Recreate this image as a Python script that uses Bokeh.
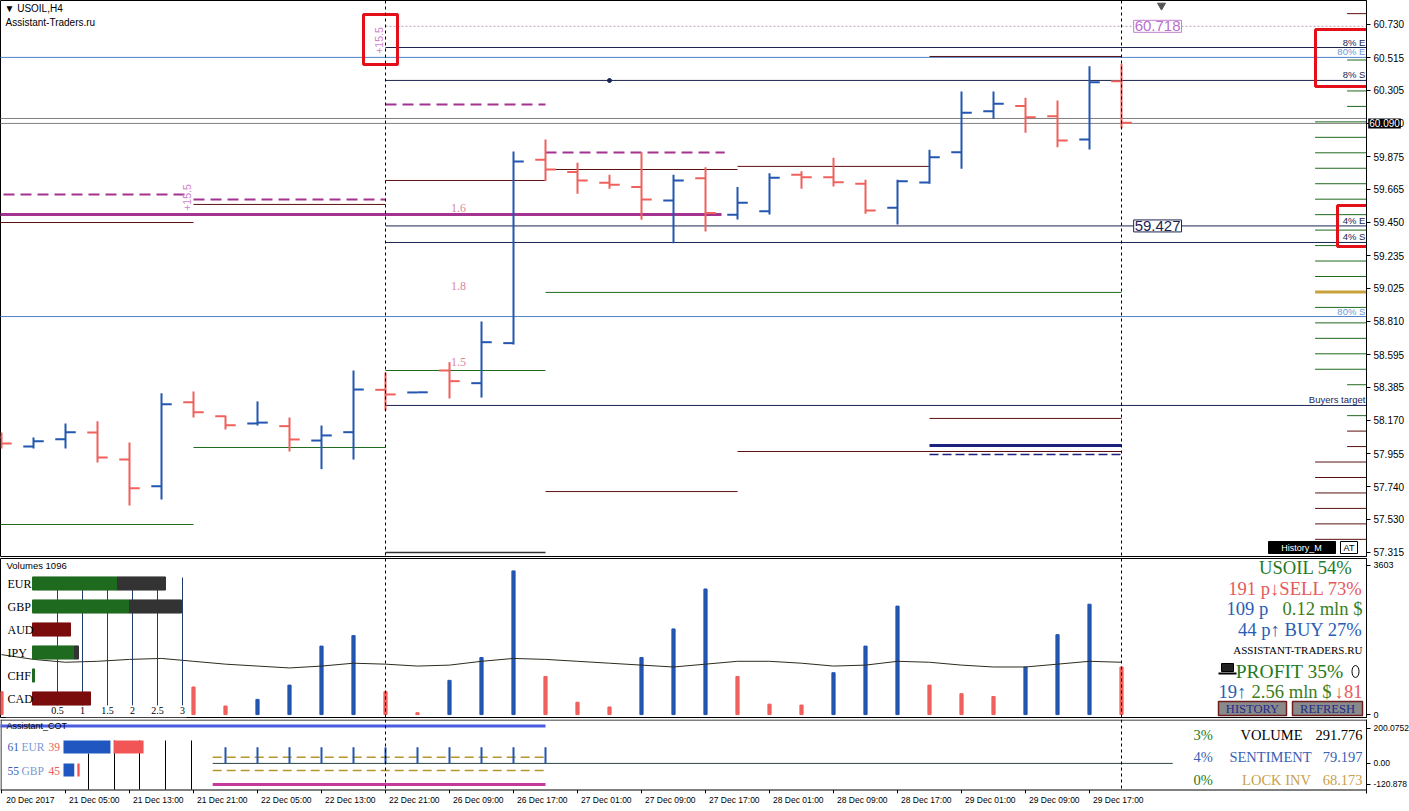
import math
from bokeh.plotting import figure
from bokeh.models import (Range1d, LinearAxis, FixedTicker, NumeralTickFormatter,
                          Span, Label, ColumnDataSource)
from bokeh.layouts import column
from bokeh.embed import file_html
from bokeh.resources import INLINE
from bokeh.core.properties import value

# ---------------- data ----------------
time_labels = ["20 Dec 2017", "21 Dec 05:00", "21 Dec 13:00", "21 Dec 21:00", "22 Dec 05:00",
               "22 Dec 13:00", "22 Dec 21:00", "26 Dec 09:00", "26 Dec 17:00", "27 Dec 01:00",
               "27 Dec 09:00", "27 Dec 17:00", "28 Dec 01:00", "28 Dec 09:00", "28 Dec 17:00",
               "29 Dec 01:00", "29 Dec 09:00", "29 Dec 17:00"]
label_bars = [0, 2, 4, 6, 8, 10, 12, 14, 16, 18, 20, 22, 24, 26, 28, 30, 32, 34]

opens = [58.060, 58.001, 58.048, 58.091, 57.916, 57.744, 58.287, 58.196, 58.150, 58.132,
         58.039, 58.093, 58.367, 58.350, 58.492, 58.410, 58.669, 59.855, 59.775, 59.706,
         59.678, 59.592, 59.736, 59.499, 59.522, 59.758, 59.742, 59.700, 59.544, 59.708,
         59.904, 60.169, 60.202, 60.137, 59.986, 60.363]
highs = [58.091, 58.059, 58.149, 58.164, 58.026, 58.345, 58.356, 58.200, 58.292, 58.188,
         58.136, 58.492, 58.479, 58.352, 58.546, 58.809, 59.909, 59.986, 59.835, 59.758,
         59.904, 59.758, 59.807, 59.678, 59.768, 59.781, 59.868, 59.726, 59.726, 59.920,
         60.297, 60.297, 60.256, 60.238, 60.460, 60.476]
lows = [57.988, 57.988, 57.988, 57.897, 57.619, 57.658, 58.188, 58.110, 58.136, 57.968,
        57.854, 57.916, 58.233, 58.348, 58.311, 58.317, 58.660, 59.718, 59.635, 59.667,
        59.467, 59.315, 59.391, 59.469, 59.501, 59.667, 59.682, 59.506, 59.436, 59.700,
        59.797, 60.120, 60.030, 59.936, 59.921, 60.059]
closes = [58.020, 58.035, 58.093, 57.929, 57.731, 58.274, 58.222, 58.138, 58.155, 58.046,
          58.072, 58.369, 58.337, 58.351, 58.423, 58.675, 59.844, 59.792, 59.721, 59.693,
          59.598, 59.721, 59.510, 59.577, 59.738, 59.742, 59.710, 59.527, 59.716, 59.872,
          60.159, 60.217, 60.130, 59.980, 60.357, 60.094]

volumes = [551, 820, 760, 940, 1110, 1280, 666, 207, 367, 711, 1652, 1905, 551, 46, 826, 1377,
           3465, 918, 298, 184, 1377, 2066, 3029, 918, 252, 230, 1010, 1652, 2616, 711, 505,
           436, 1148, 1928, 2662, 1148]
volume_ma = [1446, 1331, 1262, 1285, 1331, 1354, 1285, 1216, 1170, 1125, 1170, 1239, 1216, 1170,
             1193, 1285, 1354, 1331, 1285, 1239, 1193, 1148, 1216, 1285, 1285, 1239, 1170, 1193,
             1285, 1262, 1193, 1148, 1148, 1216, 1285, 1262]

price_ticks = [60.730, 60.515, 60.305, 60.090, 59.875, 59.665, 59.450, 59.235, 59.025, 58.810,
               58.595, 58.385, 58.170, 57.955, 57.740, 57.530, 57.315]
volume_ticks = [0, 3603]
cot_ticks = [-120.878, 0, 200.0752]

# horizontal levels
day_starts = [-1, 6, 12, 17, 23, 29]
day_ends = [6, 12, 17, 23, 29, 35]
resist_steps = [59.449, 59.566, 59.721, 59.792, 59.812, 60.523]
pivot_dashed = [59.630, 59.598, 60.213, 59.902]
support_x0 = [-1, 6, 12, 17]
support_x1 = [6, 12, 17, 35]
support_green = [57.496, 57.994, 58.492, 58.997]
maroon_x0 = [17, 23, 29]
maroon_x1 = [23, 35, 35]
maroon_levels = [57.709, 57.968, 58.182]
zone_solid = 58.007
zone_dashed = 57.949
pivot_main = 59.501
range_low = 57.315
band_levels = [60.517, 58.841]
band_names = ["80% E", "80% S"]
quote_levels = [60.122, 60.090]
target_levels = [60.581, 60.368, 59.427, 59.320, 58.266]
target_names = ["8% E", "8% S", "4% E", "4% S", "Buyers target"]
high_mark = 60.718
low_mark = 59.427
ratio_labels = ["1.6", "1.8", "1.5"]

ladder_green_long = [60.1, 60.0, 59.9, 59.8, 59.7, 59.6, 59.5, 59.4, 59.3, 59.2, 59.1,
                     58.9, 58.8, 58.7, 58.6, 58.5]
ladder_green_short = [60.5, 60.3, 60.2, 58.4, 58.2]
ladder_gold = [59.0]
ladder_maroon_short = [60.8, 58.1, 58.0]
ladder_maroon_long = [57.9, 57.8, 57.7, 57.6, 57.5, 57.4]

currencies = ["EUR", "GBP", "AUD", "IPY", "CHF", "CAD"]
cur_main = [1.68, 1.92, 0.76, 0.82, 0.04, 1.16]
cur_total = [2.66, 2.98, 0.76, 0.92, 0.04, 1.16]
cur_positive = [True, True, False, True, True, False]
cur_scale = [0.5, 1, 1.5, 2, 2.5, 3]

cot_bars_x = [7, 8, 9, 10, 11, 12, 13, 14, 15, 16, 17]
cot_hist = [92, 92, 92, 92, 92, 92, 92, 92, 92, 92, 92]
cot_top = 215
cot_gold = [36, -40]
cot_magenta = -121
cot_pairs = ["EUR", "GBP"]
cot_long = [61, 55]
cot_short = [39, 45]
cot_long_bar = [61, 14]
cot_short_bar = [39, 3]

# ---------------- style ----------------
W = 1366
UP = "#2356b0"
DN = "#f0605c"
NAVY = "#1c2452"
MAROON = "#5c1010"
GREEN = "#1f6a1f"
MAGENTA = "#a3338f"
STEEL = "#5082c8"
SANS = "Liberation Sans"
SERIF = "Liberation Serif"

XR = Range1d(-0.03125, 42.656)


def make_fig(h, yr, top, bottom, outline="black"):
    p = figure(frame_width=W, frame_height=h, x_range=XR, y_range=yr,
               output_backend="svg", toolbar_location=None,
               x_axis_location=None, y_axis_location="right",
               min_border_left=0, min_border_right=43, min_border_top=top,
               min_border_bottom=bottom, background_fill_color="white",
               border_fill_color="white", outline_line_color=outline,
               outline_line_width=1)
    p.grid.visible = False
    p.extra_x_ranges = {"px": Range1d(0, W)}
    p.extra_y_ranges = {"px": Range1d(h, 0)}
    ax = p.yaxis[0]
    ax.axis_line_color = "black"
    ax.major_tick_line_color = "black"
    ax.major_tick_out = 4
    ax.major_tick_in = 0
    ax.minor_tick_line_color = None
    ax.major_label_text_font = SANS
    ax.major_label_text_color = "black"
    ax.major_label_standoff = 3
    return p


def ptext(p, x, y, txt, color, size, align="left", font=SANS, baseline="middle",
          angle=0.0, xr="px", yr="px"):
    p.text(x=[x], y=[y], text=[txt], x_range_name=xr, y_range_name=yr,
           text_color=color, text_font=value(font), text_font_size=f"{size}px",
           text_align=align, text_baseline=baseline, angle=angle)


def vline(p, x):
    p.add_layout(Span(location=x, dimension="height", line_color="black",
                      line_dash="3 3", line_width=1))


# ================= main price panel =================
p1 = make_fig(556, Range1d(57.289, 60.885), 0, 2)
p1.yaxis.ticker = FixedTicker(ticks=price_ticks)
p1.yaxis.formatter = NumeralTickFormatter(format="0.000")
p1.yaxis.major_label_text_font_size = "10px"

RIGHT = 43

p1.segment(x0=-1, x1=RIGHT, y0=band_levels, y1=band_levels, line_color=STEEL, line_width=1)
p1.segment(x0=-1, x1=RIGHT, y0=quote_levels, y1=quote_levels, line_color="#808080", line_width=1)
p1.segment(x0=12, x1=RIGHT, y0=target_levels, y1=target_levels, line_color=NAVY, line_width=1)
p1.segment(x0=[12], x1=[RIGHT], y0=[high_mark], y1=[high_mark], line_color="#b9a0b9",
           line_width=1, line_dash="2 2")
p1.segment(x0=day_starts, x1=day_ends, y0=resist_steps, y1=resist_steps,
           line_color=MAROON, line_width=1)
p1.segment(x0=day_starts[:4], x1=[5.9, 12, 17, 22.6], y0=pivot_dashed, y1=pivot_dashed,
           line_color=MAGENTA, line_width=2, line_dash="11 6")
p1.segment(x0=[-1], x1=[22.5], y0=[pivot_main], y1=[pivot_main], line_color=MAGENTA, line_width=3)
p1.segment(x0=support_x0, x1=support_x1, y0=support_green, y1=support_green,
           line_color=GREEN, line_width=1)
p1.segment(x0=maroon_x0, x1=maroon_x1, y0=maroon_levels, y1=maroon_levels,
           line_color=MAROON, line_width=1)
p1.segment(x0=[29], x1=[35], y0=[zone_solid], y1=[zone_solid], line_color="#1a237e", line_width=3)
p1.segment(x0=[29], x1=[35], y0=[zone_dashed], y1=[zone_dashed], line_color="#1a237e",
           line_width=1.5, line_dash="9 4")
p1.segment(x0=[12], x1=[17], y0=[range_low], y1=[range_low], line_color="#333333", line_width=1.5)

p1.segment(x0=41.05, x1=RIGHT, y0=ladder_green_long, y1=ladder_green_long, line_color=GREEN, line_width=1)
p1.segment(x0=42.05, x1=RIGHT, y0=ladder_green_short, y1=ladder_green_short, line_color=GREEN, line_width=1)
p1.segment(x0=41.05, x1=RIGHT, y0=ladder_gold, y1=ladder_gold, line_color="#c9a23c", line_width=3)
p1.segment(x0=42.05, x1=RIGHT, y0=ladder_maroon_short, y1=ladder_maroon_short, line_color=MAROON, line_width=1)
p1.segment(x0=41.05, x1=RIGHT, y0=ladder_maroon_long, y1=ladder_maroon_long, line_color=MAROON, line_width=1)

N = len(opens)
xs = list(range(N))
bar_col = [UP if c >= o else DN for o, c in zip(opens, closes)]
src = ColumnDataSource(dict(x=xs, xl=[x - 0.32 for x in xs], xr=[x + 0.32 for x in xs],
                            o=opens, h=highs, l=lows, c=closes, col=bar_col))
p1.segment(x0="x", y0="l", x1="x", y1="h", line_color="col", line_width=2, source=src)
p1.segment(x0="xl", y0="o", x1="x", y1="o", line_color="col", line_width=2, source=src)
p1.segment(x0="x", y0="c", x1="xr", y1="c", line_color="col", line_width=2, source=src)

vline(p1, 12)
vline(p1, 35)

lab_x = 42.62
p1.text(x=[lab_x] * len(target_names), y=target_levels, text=target_names, text_color=NAVY,
        text_font=value(SANS), text_font_size="9.5px", text_align="right", text_baseline="bottom")
p1.text(x=[lab_x] * 2, y=band_levels, text=band_names, text_color="#6c98d8",
        text_font=value(SANS), text_font_size="9.5px", text_align="right", text_baseline="bottom")

p1.add_layout(Label(x=35.38, y=high_mark, text=f"{high_mark:.3f}", text_color="#b86fd0",
                    text_font=SANS, text_font_size="15px", text_baseline="middle",
                    background_fill_color="white", border_line_color="#c080d0", padding=1))
p1.add_layout(Label(x=35.38, y=low_mark, text=f"{low_mark:.3f}", text_color=NAVY,
                    text_font=SANS, text_font_size="15px", text_baseline="middle",
                    background_fill_color="white", border_line_color=NAVY, padding=1))
# current price box, placed in the right side panel so that it is not clipped by the frame
p1.add_layout(Label(x=42.71, y=quote_levels[1], text=f"{quote_levels[1]:.3f}", text_color="white",
                    text_font=SANS, text_font_size="10px", text_baseline="middle",
                    background_fill_color="black", padding=1), "right")

ptext(p1, 4, 8, "\u25BC USOIL,H4", "black", 10)
ptext(p1, 5, 22, "Assistant-Traders.ru", "black", 10)
ptext(p1, 186, 197, "+15.5", "#cf7fcf", 10.5, align="center", angle=math.pi / 2)
ptext(p1, 378, 40, "+15.5", "#cf7fcf", 10.5, align="center", angle=math.pi / 2)
for t, yy in zip(ratio_labels, [207, 285, 361]):
    ptext(p1, 458, yy, t, "#d98a9e", 12, align="center", font=SERIF)

p1.quad(left=[1268], right=[1335], top=[541], bottom=[553], x_range_name="px", y_range_name="px",
        fill_color="black", line_color="black")
ptext(p1, 1301, 547, "History_M", "white", 9, align="center")
p1.quad(left=[1340], right=[1357], top=[541], bottom=[553], x_range_name="px", y_range_name="px",
        fill_color="white", line_color="black")
ptext(p1, 1348.5, 547, "AT", "black", 9, align="center")

p1.scatter(x=[1161], y=[5], marker="inverted_triangle", size=8, color="#555555",
           x_range_name="px", y_range_name="px")
p1.scatter(x=[609], y=[80], marker="circle", size=4, color=NAVY,
           x_range_name="px", y_range_name="px")

p1.quad(left=[363, 1315, 1337], right=[397, 1376, 1368], top=[14, 29, 205],
        bottom=[64, 86, 246], x_range_name="px", y_range_name="px",
        fill_color=None, line_color="#e3101a", line_width=3)

# ================= volume panel =================
p2 = make_fig(159, Range1d(-70, 3764), 0, 2)
p2.yaxis.ticker = FixedTicker(ticks=volume_ticks)
p2.yaxis.major_label_text_font_size = "9px"
p2.extra_x_ranges["cur"] = Range1d(-0.64, 26.68)
p2.extra_y_ranges["rows"] = Range1d(-0.826, 6.087)

vol_col = [DN] + [UP if volumes[i] > volumes[i - 1] else DN for i in range(1, N)]
p2.vbar(x=xs, top=volumes, bottom=0, width=0.1, color=vol_col)
vline(p2, 12)
vline(p2, 35)

p2.quad(left=[5], right=[186], top=[12], bottom=[159], x_range_name="px", y_range_name="px",
        fill_color="white", line_color=None)
p2.line(x=xs, y=volume_ma, line_color="#2b2b1e", line_width=1)

rows_v = [5, 4, 3, 2, 1, 0]
p2.segment(x0=cur_scale, x1=cur_scale, y0=5.26, y1=-0.30, x_range_name="cur",
           y_range_name="rows", line_color="#1f3c6c", line_width=1)
p2.hbar(y=rows_v, left=cur_main, right=cur_total, height=0.57, x_range_name="cur",
        y_range_name="rows", color="#333333")
p2.hbar(y=rows_v, left=0, right=cur_main, height=0.57, x_range_name="cur", y_range_name="rows",
        color=["#1e6a1e" if pos else "#7a0c0c" for pos in cur_positive])
p2.text(x=[-0.5] * 6, y=rows_v, text=currencies, x_range_name="cur", y_range_name="rows",
        text_font=value(SERIF), text_font_size="12px", text_color="black",
        text_baseline="middle", text_align="left")
p2.text(x=cur_scale, y=[-0.52] * 6, text=[f"{v:g}" for v in cur_scale], x_range_name="cur",
        y_range_name="rows", text_font=value(SERIF), text_font_size="10px",
        text_color="black", text_baseline="middle", text_align="center")

ptext(p2, 6, 7, "Volumes 1096", "black", 9.5)

G1 = "#237a23"
G2 = "#3b7d1c"
R1 = "#e8585a"
B1 = "#2a5db5"
BIG = 18.6
ptext(p2, 1352, 9, "USOIL 54%", G1, BIG, align="right", font=SERIF)
ptext(p2, 1362, 30, "191 p\u2193SELL 73%", R1, BIG, align="right", font=SERIF)
ptext(p2, 1226, 50, "109 p", B1, BIG, font=SERIF)
ptext(p2, 1362, 50, "0.12 mln $", G2, BIG, align="right", font=SERIF)
ptext(p2, 1362, 71, "44 p\u2191 BUY 27%", B1, BIG, align="right", font=SERIF)
ptext(p2, 1362, 91, "ASSISTANT-TRADERS.RU", "black", 11, align="right", font=SERIF)
ptext(p2, 1343, 113, "PROFIT 35%", G1, 19.5, align="right", font=SERIF)
ptext(p2, 1218, 133, "19\u2191", B1, BIG, font=SERIF)
ptext(p2, 1251, 133, "2.56 mln $", G2, BIG, font=SERIF)
ptext(p2, 1362, 133, "\u219381", R1, BIG, align="right", font=SERIF)
p2.quad(left=[1221], right=[1233], top=[105], bottom=[113], x_range_name="px", y_range_name="px",
        fill_color="#222222", line_color="black")
p2.segment(x0=[1218], x1=[1236], y0=[115], y1=[115], x_range_name="px", y_range_name="px",
           line_color="black", line_width=2)
p2.ellipse(x=[1355], y=[113], width=[7], height=[12], x_range_name="px", y_range_name="px",
           fill_color=None, line_color="black")
p2.quad(left=[1218, 1292], right=[1286, 1362], top=[143, 143], bottom=[157, 157],
        x_range_name="px", y_range_name="px", fill_color="#8a8a8a", line_color="#6e2020",
        line_width=1.5)
ptext(p2, 1252, 150.5, "HISTORY", "#1c2a8c", 12.5, align="center", font=SERIF)
ptext(p2, 1327, 150.5, "REFRESH", "#1c2a8c", 12.5, align="center", font=SERIF)

# ================= COT panel (frame includes the 4 px time-tick strip) =================
CH = 70
p3 = make_fig(CH + 4, Range1d(-172.46, 251.65), 0, 0, outline=None)
p3.yaxis.ticker = FixedTicker(ticks=cot_ticks)
p3.yaxis.major_label_overrides = {-120.878: "-120.878", 0: "0.00", 200.0752: "200.0752"}
p3.yaxis.major_label_text_font_size = "8.5px"
p3.extra_x_ranges["pct"] = Range1d(-81.8, 1692.2)

p3.segment(x0=[0, 0, 0.5], x1=[W, W, 0.5], y0=[0.5, CH + 0.5, 0], y1=[0.5, CH + 0.5, CH + 0.5],
           x_range_name="px", y_range_name="px", line_color="black", line_width=1)
p3.segment(x0=label_bars, x1=label_bars, y0=CH + 0.5, y1=CH + 4, y_range_name="px",
           line_color="black", line_width=1)

p3.segment(x0=[-1], x1=[17], y0=[cot_top], y1=[cot_top], line_color="#4a5de0", line_width=3)
p3.segment(x0=[6.6], x1=[36.6], y0=[0], y1=[0], line_color="#2f4646", line_width=1)
p3.segment(x0=6.6, x1=17, y0=cot_gold, y1=cot_gold, line_color="#b8962e", line_width=1.5,
           line_dash="9 5")
p3.segment(x0=[6.6], x1=[17], y0=[cot_magenta], y1=[cot_magenta], line_color="#c43a9c", line_width=3)
p3.segment(x0=cot_bars_x, x1=cot_bars_x, y0=0, y1=cot_hist, line_color=UP, line_width=2)
p3.segment(x0=[12, 35], x1=[12, 35], y0=[0, 0], y1=[CH, CH], y_range_name="px",
           line_color="black", line_dash="3 3", line_width=1)

p3.segment(x0=[88, 114, 139, 165, 191], x1=[88, 114, 139, 165, 191],
           y0=[34, 21, 21, 21, 21], y1=[CH] * 5, x_range_name="px", y_range_name="px",
           line_color="black", line_width=1)
p3.quad(left=[0, 0], right=cot_long_bar, top=[21, 44], bottom=[34, 57],
        x_range_name="pct", y_range_name="px", fill_color="#1f56c0", line_color=None)
p3.quad(left=[b + 4 for b in cot_long_bar],
        right=[b + 4 + s for b, s in zip(cot_long_bar, cot_short_bar)],
        top=[21, 44], bottom=[34, 57], x_range_name="pct", y_range_name="px",
        fill_color="#f25555", line_color=None)
for yy, pair, lo, sh in zip([27.5, 51], cot_pairs, cot_long, cot_short):
    ptext(p3, 7, yy, str(lo), "#3560b8", 11.5, font=SERIF)
    ptext(p3, 21, yy, pair, "#7c98d4", 11.5, font=SERIF)
    ptext(p3, 48, yy, str(sh), "#ec5a5a", 11.5, font=SERIF)
ptext(p3, 6, 6, "Assistant_COT", "black", 9)

ptext(p3, 1193, 15, "3%", G1, 14.5, font=SERIF)
ptext(p3, 1271, 15, "VOLUME", "black", 14.5, align="center", font=SERIF)
ptext(p3, 1362, 15, "291.776", "black", 14.5, align="right", font=SERIF)
ptext(p3, 1193, 37, "4%", "#3a62b4", 14.5, font=SERIF)
ptext(p3, 1270, 37, "SENTIMENT", "#3a62b4", 14.5, align="center", font=SERIF)
ptext(p3, 1362, 37, "79.197", "#3a62b4", 14.5, align="right", font=SERIF)
ptext(p3, 1193, 60, "0%", G1, 14.5, font=SERIF)
ptext(p3, 1276, 60, "LOCK INV", "#c9a04a", 14.5, align="center", font=SERIF)
ptext(p3, 1362, 60, "68.173", "#c9a04a", 14.5, align="right", font=SERIF)

p3.extra_x_ranges["lab"] = Range1d(XR.start - 0.9, XR.end - 0.9)
lab_ax = LinearAxis(x_range_name="lab", ticker=FixedTicker(ticks=label_bars),
                    major_label_overrides={b: t for b, t in zip(label_bars, time_labels)},
                    major_tick_line_color=None, major_tick_out=0, major_tick_in=0,
                    minor_tick_line_color=None, minor_tick_out=0,
                    axis_line_color=None, major_label_standoff=1,
                    major_label_text_font=SANS, major_label_text_font_size="8.5px",
                    major_label_text_color="black")
p3.add_layout(lab_ax, "below")

layout = column(p1, p2, p3, spacing=0)
open("out.html", "w").write(file_html(layout, INLINE))
